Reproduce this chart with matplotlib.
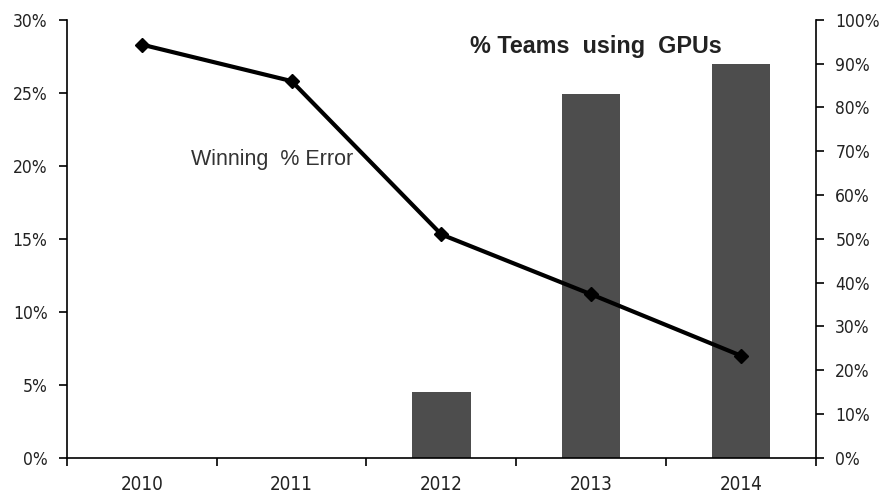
import matplotlib
matplotlib.use("Agg")
import matplotlib.pyplot as plt
from matplotlib.ticker import FuncFormatter, FixedLocator

years = ["2010", "2011", "2012", "2013", "2014"]
winning_error = [28.3, 25.8, 15.3, 11.2, 7.0]      # left axis, %
teams_gpu = [0, 0, 15, 83, 90]                      # right axis, %

bar_color = "#4d4d4d"
tick_font = {"family": "DejaVu Sans", "size": 12.5, "stretch": "condensed"}

fig = plt.figure(figsize=(8.81, 4.94), dpi=100)
ax = fig.add_axes([0.076, 0.073, 0.850, 0.887])
ax2 = ax.twinx()

x = list(range(len(years)))

# bars belong to the right-hand scale, drawn underneath the line
ax2.bar(x, teams_gpu, width=0.39, color=bar_color, zorder=1)
ax2.set_ylim(0, 100)
ax2.yaxis.set_major_locator(FixedLocator(range(0, 101, 10)))
ax2.yaxis.set_major_formatter(FuncFormatter(lambda v, p: f"{v:.0f}%"))

ax.set_zorder(ax2.get_zorder() + 1)
ax.patch.set_visible(False)
ax.plot(x, winning_error, color="black", lw=3, marker="D", ms=7.5,
        solid_joinstyle="miter", zorder=3)
ax.set_ylim(0, 30)
ax.set_xlim(-0.5, len(years) - 0.5)
ax.yaxis.set_major_locator(FixedLocator(range(0, 31, 5)))
ax.yaxis.set_major_formatter(FuncFormatter(lambda v, p: f"{v:.0f}%"))

# category labels centred, tick marks between categories
ax.set_xticks(x)
ax.set_xticklabels(years)
ax.tick_params(axis="x", which="major", length=0, pad=12)
ax.set_xticks([i - 0.5 for i in range(len(years) + 1)], minor=True)
ax.tick_params(axis="x", which="minor", length=6, width=1.2, direction="out")

for a in (ax, ax2):
    a.spines["top"].set_visible(False)
    for s in ("left", "right", "bottom"):
        a.spines[s].set_linewidth(1.2)
ax.spines["right"].set_visible(False)
ax2.spines["left"].set_visible(False)
ax2.spines["bottom"].set_visible(False)

ax.tick_params(axis="y", length=6, width=1.2, pad=8)
ax2.tick_params(axis="y", length=6, width=1.2, pad=8)
for lab in ax.get_yticklabels() + ax2.get_yticklabels() + ax.get_xticklabels():
    lab.set_fontfamily(tick_font["family"])
    lab.set_fontsize(tick_font["size"])
    lab.set_fontstretch(tick_font["stretch"])
    lab.set_color("#222222")
for lab in ax.get_xticklabels():
    lab.set_fontsize(13.5)

ax.text(0.873, 20.4, "Winning  % Error", fontsize=15.5, family="Liberation Sans",
        color="#333333", ha="center", va="center")
ax2.text(3.03, 93.8, "% Teams  using  GPUs", fontsize=16.8, family="Liberation Sans",
         fontweight="bold", color="#222222", ha="center", va="center")

fig.savefig("out.png", dpi=100)
